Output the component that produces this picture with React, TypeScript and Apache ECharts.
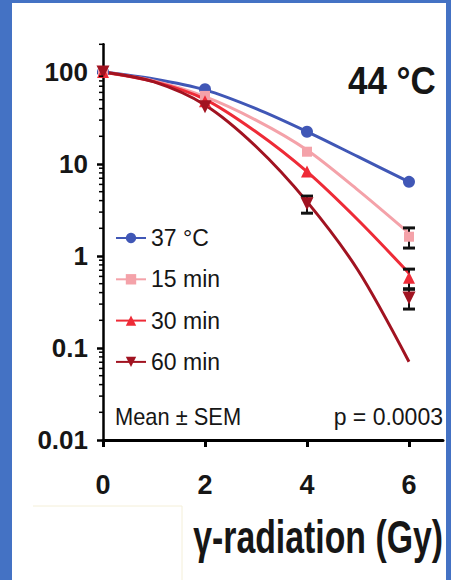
import React, { useEffect, useRef } from 'react';
import * as echarts from 'echarts';

// Clonogenic survival after γ-radiation, with 44 °C heat pre-treatment
const GROUPS = ['37 °C', '15 min', '30 min', '60 min'];
const COLORS = ['#4057b6', '#f4a2a9', '#ee2b37', '#a11321'];
const SYMBOLS = ['circle', 'rect', 'triangle', 'path://M0,0L2,0L1,1.8Z'];
const SYMBOL_SIZES = [12, 10, 12, 13];

const DOSES = [0, 2, 4, 6];
const FIT_DOSES = [0, 1, 2, 3, 4, 5, 6];

// Surviving fraction (%) — mean values
const MEAN_37C = [100, 65, 22.4, 6.4];
const MEAN_15MIN = [100, 55, 13.6, 1.62];
const MEAN_30MIN = [100, 48, 8.3, 0.58];
const MEAN_60MIN = [100, 42, 3.7, 0.35];

// SEM (only bars larger than the marker are drawn)
const SEM_37C = [0, 0, 0, 0];
const SEM_15MIN = [0, 0, 0, 0.4];
const SEM_30MIN = [0, 0, 0, 0.14];
const SEM_60MIN = [0, 0, 0.78, 0.085];

// Fitted survival curves
const FIT_37C = [100, 84, 64, 40, 22.5, 12, 6.4];
const FIT_15MIN = [100, 80, 54, 30, 14.2, 5.2, 1.77];
const FIT_30MIN = [100, 78.5, 50.5, 22.4, 8.25, 2.46, 0.65];
const FIT_60MIN = [100, 78, 43.8, 15.5, 3.9, 0.7, 0.071];

const X_TICKS = [0, 2, 4, 6];
const Y_TICKS = [0.01, 0.1, 1, 10, 100];
const Y_MINOR_STEPS = [2, 3, 4, 5, 6, 7, 8, 9];
const Y_MAX = 200;

const MEANS = [MEAN_37C, MEAN_15MIN, MEAN_30MIN, MEAN_60MIN];
const SEMS = [SEM_37C, SEM_15MIN, SEM_30MIN, SEM_60MIN];
const FITS = [FIT_37C, FIT_15MIN, FIT_30MIN, FIT_60MIN];

const FONT = '"Liberation Sans", Arial, Helvetica, sans-serif';
const INK = '#161616';

function buildOption() {
  const curveSeries = GROUPS.map((name, g) => ({
    type: 'line',
    name,
    data: FIT_DOSES.map((d, i) => [d, FITS[g][i]]),
    smooth: 0.3,
    symbol: SYMBOLS[g],
    symbolSize: SYMBOL_SIZES[g],
    showSymbol: false,
    lineStyle: { color: COLORS[g], width: 3 },
    itemStyle: { color: COLORS[g] },
    z: 2,
    silent: true,
  }));

  const errorSeries = GROUPS.map((name, g) => ({
    type: 'custom',
    name,
    data: DOSES.map((d, i) => [d, MEANS[g][i], SEMS[g][i]]).filter((r) => r[2] > 0),
    encode: { x: 0, y: 1 },
    z: 3,
    silent: true,
    renderItem: (_params: any, api: any) => {
      const d = api.value(0);
      const m = api.value(1);
      const s = api.value(2);
      const top = api.coord([d, m + s]);
      const bot = api.coord([d, m - s]);
      const hw = 6;
      const style = { stroke: '#111', lineWidth: 2 };
      const cap = { stroke: '#111', lineWidth: 3 };
      return {
        type: 'group',
        children: [
          { type: 'line', shape: { x1: top[0], y1: top[1], x2: bot[0], y2: bot[1] }, style },
          { type: 'line', shape: { x1: top[0] - hw, y1: top[1], x2: top[0] + hw, y2: top[1] }, style: cap },
          { type: 'line', shape: { x1: bot[0] - hw, y1: bot[1], x2: bot[0] + hw, y2: bot[1] }, style: cap },
        ],
      };
    },
  }));

  const markerSeries = GROUPS.map((name, g) => ({
    type: 'scatter',
    name,
    data: DOSES.map((d, i) => [d, MEANS[g][i]]),
    symbol: SYMBOLS[g],
    symbolSize: SYMBOL_SIZES[g],
    itemStyle: { color: COLORS[g], opacity: 1 },
    z: 4,
    silent: true,
  }));

  // log-spaced minor ticks on the y axis
  const minorValues: number[] = [];
  Y_TICKS.forEach((dec) =>
    Y_MINOR_STEPS.forEach((k) => {
      const v = k * dec;
      if (v <= Y_MAX) minorValues.push(v);
    })
  );
  const minorTickSeries = {
    type: 'custom',
    data: minorValues.map((v) => [0, v]),
    encode: { x: 0, y: 1 },
    clip: false,
    silent: true,
    z: 5,
    renderItem: (_params: any, api: any) => {
      const p = api.coord([api.value(0), api.value(1)]);
      return {
        type: 'line',
        shape: { x1: p[0] - 4, y1: p[1], x2: p[0], y2: p[1] },
        style: { stroke: '#000', lineWidth: 1.5 },
      };
    },
  };

  return {
    animation: false,
    backgroundColor: '#ffffff',
    grid: { left: 103, top: 44.3, width: 340, height: 395.7, containLabel: false, outerBoundsMode: 'none' },
    xAxis: {
      type: 'value',
      min: 0,
      max: 6.667,
      splitLine: { show: false },
      axisLine: { onZero: false, lineStyle: { color: '#000', width: 3 } },
      axisTick: { length: 7, lineStyle: { color: '#000', width: 3 }, customValues: X_TICKS },
      axisLabel: {
        customValues: X_TICKS,
        formatter: (v: number) => String(v),
        fontSize: 27,
        fontWeight: 'bold',
        fontFamily: FONT,
        color: INK,
        margin: 31,
      },
    },
    yAxis: {
      type: 'log',
      logBase: 10,
      min: Y_TICKS[0],
      max: Y_MAX,
      splitLine: { show: false },
      axisLine: { lineStyle: { color: '#000', width: 2.5 } },
      axisTick: { length: 6, lineStyle: { color: '#000', width: 2.5 }, customValues: Y_TICKS },
      axisLabel: {
        customValues: Y_TICKS,
        formatter: (v: number) => String(v),
        fontSize: 26,
        fontWeight: 'bold',
        fontFamily: FONT,
        color: INK,
        margin: 15,
      },
    },
    legend: {
      orient: 'vertical',
      left: 115,
      top: 226,
      padding: 0,
      itemWidth: 30,
      itemHeight: 13,
      itemGap: 17.3,
      data: GROUPS,
      selectedMode: false,
      textStyle: { fontSize: 23, fontFamily: FONT, color: INK, lineHeight: 24 },
    },
    series: [...curveSeries, ...errorSeries, ...markerSeries, minorTickSeries],
    graphic: [
      {
        type: 'text',
        x: 348,
        y: 81,
        scaleX: 0.92,
        style: { text: '44 °C', x: 0, y: 0, verticalAlign: 'middle', font: `bold 38px ${FONT}`, fill: INK },
      },
      {
        type: 'text',
        x: 115,
        y: 417,
        scaleX: 0.95,
        style: { text: 'Mean ± SEM', x: 0, y: 0, verticalAlign: 'middle', font: `23px ${FONT}`, fill: INK },
      },
      {
        type: 'text',
        x: 443,
        y: 417,
        style: { text: 'p = 0.0003', x: 0, y: 0, align: 'right', verticalAlign: 'middle', font: `23px ${FONT}`, fill: INK },
      },
      {
        type: 'text',
        x: 443,
        y: 537,
        scaleX: 0.735,
        style: { text: 'γ-radiation (Gy)', x: 0, y: 0, align: 'right', verticalAlign: 'middle', font: `bold 46px ${FONT}`, fill: INK },
      },
      {
        type: 'polyline',
        shape: { points: [[33, 506], [182, 506], [182, 580]] },
        style: { stroke: '#f4efd8', lineWidth: 1, fill: null },
      },
      { type: 'rect', shape: { x: 0, y: 0, width: 12, height: 580 }, style: { fill: '#4472c4' }, z: 10 },
      { type: 'rect', shape: { x: 0, y: 0, width: 451, height: 3 }, style: { fill: '#4472c4' }, z: 10 },
      { type: 'rect', shape: { x: 446, y: 0, width: 5, height: 580 }, style: { fill: '#4472c4' }, z: 10 },
    ],
  };
}

export default function App() {
  const ref = useRef<HTMLDivElement>(null);
  useEffect(() => {
    if (!ref.current) return;
    const chart = echarts.init(ref.current, undefined, { renderer: 'svg' });
    chart.setOption(buildOption() as any);
    return () => chart.dispose();
  }, []);
  return (
    <div
      ref={ref}
      style={{ position: 'absolute', left: 0, top: 0, width: 451, height: 580, background: '#fff' }}
    />
  );
}
